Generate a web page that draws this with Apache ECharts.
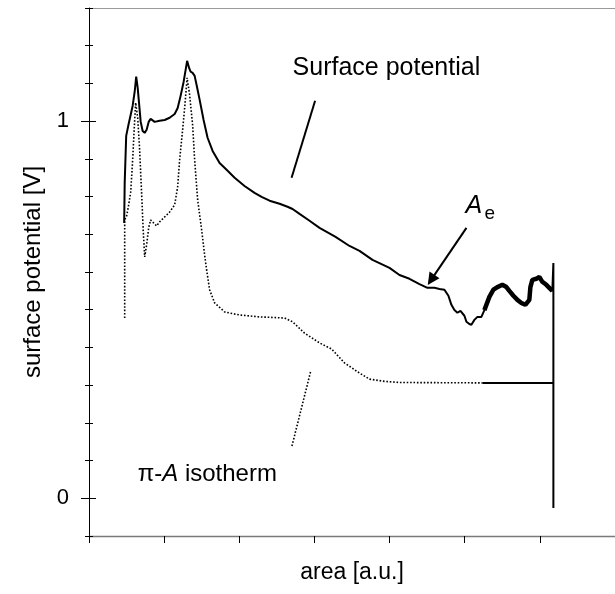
<!DOCTYPE html>
<html><head><meta charset="utf-8">
<script src="https://cdn.jsdelivr.net/npm/echarts@6/dist/echarts.min.js"></script>
<style>html,body{margin:0;padding:0;background:#fff}#c{width:615px;height:594px}</style>
</head><body><div id="c"></div>
<script>
// ---- data ----
const xRange = [0, 7];
const yRange = [-0.1, 1.3];
const xTickValues = [0, 1, 2, 3, 4, 5, 6, 7];
const yTickValues = [-0.1, 0, 0.1, 0.2, 0.3, 0.4, 0.5, 0.6, 0.7, 0.8, 0.9, 1, 1.1, 1.2, 1.3];
const yTickLabels = [0, 1];

const surfacePotential = [
  [0.468,0.730],[0.475,0.836],[0.495,0.961],[0.528,0.993],[0.555,1.017],[0.581,1.041],[0.608,1.078],
  [0.628,1.118],[0.648,1.088],[0.668,1.043],[0.688,0.998],[0.714,0.974],[0.741,0.969],[0.767,0.977],
  [0.794,0.998],[0.820,1.006],[0.874,0.998],[0.940,1.001],[1.007,1.003],[1.073,1.009],[1.140,1.019],
  [1.180,1.035],[1.219,1.067],[1.259,1.104],[1.286,1.136],[1.306,1.160],[1.332,1.141],[1.352,1.131],
  [1.379,1.128],[1.406,1.120],[1.432,1.096],[1.472,1.057],[1.525,1.003],[1.578,0.956],[1.645,0.921],
  [1.738,0.889],[1.831,0.871],[1.938,0.850],[2.070,0.828],[2.203,0.810],[2.297,0.799],[2.403,0.789],
  [2.536,0.781],[2.642,0.773],[2.709,0.767],[2.802,0.754],[2.935,0.736],[3.068,0.717],[3.281,0.693],
  [3.467,0.669],[3.600,0.656],[3.773,0.632],[3.999,0.611],[4.132,0.592],[4.265,0.582],[4.398,0.568],
  [4.504,0.558],[4.597,0.558],[4.664,0.555],[4.730,0.553],[4.783,0.537],[4.823,0.513],[4.863,0.499],
  [4.903,0.492],[4.943,0.497],[4.969,0.502],[4.996,0.484],[5.023,0.468],[5.062,0.462],[5.089,0.460],
  [5.129,0.473],[5.169,0.481],[5.222,0.481],[5.262,0.499],[5.328,0.534],[5.382,0.553],[5.435,0.560],
  [5.501,0.566],[5.555,0.560],[5.594,0.550],[5.648,0.537],[5.701,0.526],[5.754,0.518],[5.807,0.513],
  [5.860,0.526],[5.874,0.560],[5.900,0.579],[5.953,0.582],[5.993,0.587],[6.033,0.574],[6.086,0.566],
  [6.126,0.558],[6.166,0.550],[6.180,0.624],[6.180,-0.026]
];
const surfaceNoisyTail = [
  [5.262,0.499],[5.328,0.534],[5.382,0.553],[5.435,0.560],[5.501,0.566],[5.555,0.560],[5.594,0.550],
  [5.648,0.537],[5.701,0.526],[5.754,0.518],[5.807,0.513],[5.860,0.526],[5.874,0.560],[5.900,0.579],
  [5.953,0.582],[5.993,0.587],[6.033,0.574],[6.086,0.566],[6.126,0.558],[6.166,0.550]
];
const isothermDotted = [
  [0.475,0.478],[0.475,0.738],[0.501,0.749],[0.528,0.778],[0.555,0.812],[0.581,0.897],[0.601,0.977],
  [0.621,1.049],[0.648,1.009],[0.674,0.924],[0.701,0.805],[0.721,0.712],[0.741,0.640],[0.767,0.672],
  [0.794,0.717],[0.820,0.738],[0.860,0.730],[0.900,0.722],[0.940,0.733],[1.007,0.746],[1.073,0.759],
  [1.140,0.778],[1.180,0.826],[1.206,0.897],[1.246,0.977],[1.273,1.035],[1.306,1.115],[1.339,1.070],
  [1.379,0.990],[1.406,0.897],[1.446,0.791],[1.499,0.712],[1.539,0.645],[1.565,0.606],[1.605,0.553],
  [1.672,0.518],[1.805,0.494],[2.004,0.486],[2.270,0.481],[2.602,0.478],[2.709,0.468],[2.868,0.438],
  [3.068,0.412],[3.227,0.396],[3.400,0.359],[3.600,0.332],[3.733,0.316],[3.932,0.310],[4.132,0.307],
  [5.235,0.306]
];
const isothermDense = [[5.235,0.306],[6.180,0.306]];

// ---- annotations (data coordinates) ----
const surfaceLeader = [[3.009,1.054],[2.696,0.850]];
const aeArrow = [[5.023,0.717],[4.553,0.579]];
const isothermLeader = [[2.948,0.335],[2.695,0.134]];
const surfaceLabelPos = [2.709,1.141];
const aLabelPos = [5.009,0.775];
const eLabelPos = [5.262,0.755];
const isothermLabelPos = [0.648,0.063];

const FONT = "'Liberation Sans', Arial, sans-serif";
const chart = echarts.init(document.getElementById('c'), null, {renderer:'canvas'});

function yAxisBase(extra){
  return Object.assign({
    type:'value', min:yRange[0], max:yRange[1], position:'left',
    axisLine:{show:false, onZero:false}, splitLine:{show:false},
    axisLabel:{show:false}, axisTick:{show:false}
  }, extra);
}

chart.setOption({
  animation:false,
  backgroundColor:'#fff',
  grid:{left:89, top:8, width:526, height:528, containLabel:false, outerBoundsMode:'none'},
  xAxis:[
    {type:'value', min:xRange[0], max:xRange[1], position:'bottom',
     axisLine:{show:true, onZero:false, lineStyle:{color:'#7a7a7a', width:1.3}},
     axisTick:{show:true, customValues:xTickValues, length:7, lineStyle:{color:'#000', width:1}},
     axisLabel:{show:false}, splitLine:{show:false},
     name:'area [a.u.]', nameLocation:'middle', nameGap:25,
     nameTextStyle:{fontSize:23, color:'#000', fontFamily:FONT}},
    {type:'value', min:xRange[0], max:xRange[1], position:'top',
     axisLine:{show:true, onZero:false, lineStyle:{color:'#999', width:1}},
     axisTick:{show:false}, axisLabel:{show:false}, splitLine:{show:false}}
  ],
  yAxis:[
    yAxisBase({
      axisLine:{show:true, onZero:false, lineStyle:{color:'#000', width:1}},
      axisTick:{show:true, customValues:yTickValues, length:4, lineStyle:{color:'#000'}},
      axisLabel:{show:true, customValues:yTickLabels, margin:20, fontSize:22, color:'#000', fontFamily:FONT},
      name:'surface potential [V]', nameLocation:'middle', nameGap:44, nameRotate:90,
      nameTextStyle:{fontSize:24, color:'#000', fontFamily:FONT}
    }),
    yAxisBase({axisTick:{show:true, inside:true, customValues:yTickValues, length:4, lineStyle:{color:'#000'}}}),
    yAxisBase({axisTick:{show:true, customValues:yTickLabels, length:8, lineStyle:{color:'#000'}}}),
    yAxisBase({axisTick:{show:true, inside:true, customValues:yTickLabels, length:7, lineStyle:{color:'#000'}}})
  ],
  series:[
    {type:'line', name:'isotherm', data:isothermDotted, showSymbol:false, symbol:'none',
     lineStyle:{color:'#000', width:1.6, type:[1.6,1.8]},
     markLine:{silent:true, symbol:['none','none'], label:{show:false},
       lineStyle:{color:'#000', width:1.6, type:[1.6,1.8]},
       data:[[{coord:isothermLeader[0]},{coord:isothermLeader[1]}]]}},
    {type:'line', name:'isothermDense', data:isothermDense, showSymbol:false, symbol:'none',
     lineStyle:{color:'#000', width:2}},
    {type:'line', name:'surface', data:surfacePotential, showSymbol:false, symbol:'none',
     lineStyle:{color:'#000', width:2},
     markLine:{silent:true, label:{show:false}, lineStyle:{color:'#000', width:2, type:'solid'},
       symbol:['none','none'],
       data:[
         [{coord:surfaceLeader[0]},{coord:surfaceLeader[1]}],
         [{coord:aeArrow[0], symbol:'none'},{coord:aeArrow[1], symbol:'triangle', symbolSize:12}]
       ]}},
    {type:'line', name:'surfaceTail', data:surfaceNoisyTail, showSymbol:false, symbol:'none',
     lineStyle:{color:'#000', width:4.5}}
  ]
});

function px(p){ return chart.convertToPixel({xAxisIndex:0, yAxisIndex:0}, p); }
const s = px(surfaceLabelPos), a = px(aLabelPos), e = px(eLabelPos), iso = px(isothermLabelPos);
chart.setOption({
  graphic:[
    {type:'text', x:s[0], y:s[1], style:{text:'Surface potential', fontSize:25, fontFamily:FONT, fill:'#000', verticalAlign:'middle', align:'left'}},
    {type:'text', x:a[0], y:a[1], style:{text:'A', fontSize:25, fontStyle:'italic', fontFamily:FONT, fill:'#000', verticalAlign:'middle', align:'left'}},
    {type:'text', x:e[0], y:e[1], style:{text:'e', fontSize:19, fontFamily:FONT, fill:'#000', verticalAlign:'middle', align:'left'}},
    {type:'text', x:iso[0], y:iso[1], style:{
      text:'{n|π-}{i|A}{n| isotherm}', fill:'#000', verticalAlign:'middle', align:'left',
      rich:{n:{fontSize:24, fontFamily:FONT, fill:'#000'}, i:{fontSize:24, fontFamily:FONT, fontStyle:'italic', fill:'#000'}}}}
  ]
});
</script></body></html>
